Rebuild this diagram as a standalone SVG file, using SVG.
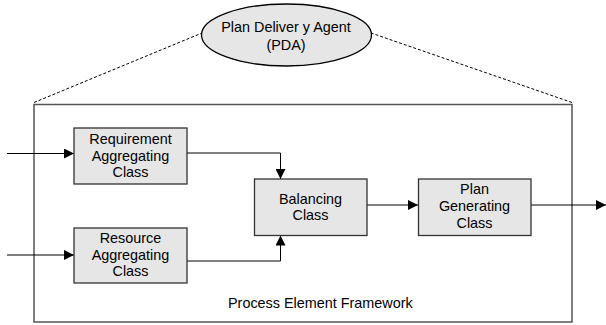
<svg xmlns="http://www.w3.org/2000/svg" width="606" height="325" viewBox="0 0 606 325">
<defs>
<style>
text{font-family:"Liberation Sans",Arial,sans-serif;font-size:14.4px;fill:#000;text-anchor:middle}
.box{fill:#e6e6e6;stroke:#333;stroke-width:1.3}
.edge{fill:none;stroke:#000;stroke-width:1}
.dash{fill:none;stroke:#000;stroke-width:1;stroke-dasharray:3,2}
</style>
<marker id="ah" viewBox="0 0 10 10" refX="10" refY="5" markerWidth="11" markerHeight="10" markerUnits="userSpaceOnUse" orient="auto">
<path d="M0,0 L10,5 L0,10 Z" fill="#000"/>
</marker>
</defs>
<rect width="606" height="325" fill="#fff"/>
<g id="frame">
<rect x="34" y="104.5" width="538" height="217.5" fill="none" stroke="#555" stroke-width="1.5"/>
<text x="228" y="308" style="text-anchor:start">Process Element Framework</text>
</g>
<g id="connectors">
<line class="dash" x1="34" y1="102.5" x2="202" y2="33"/>
<line class="dash" x1="572" y1="102.5" x2="371" y2="33"/>
<path class="edge" d="M7,153.5 H74" marker-end="url(#ah)"/>
<path class="edge" d="M7,255 H74" marker-end="url(#ah)"/>
<path class="edge" d="M187,153 H280.5 V179" marker-end="url(#ah)"/>
<path class="edge" d="M187,261 H280.5 V235.5" marker-end="url(#ah)"/>
<path class="edge" d="M367,205 H418" marker-end="url(#ah)"/>
<path class="edge" d="M531,205 H606" marker-end="url(#ah)"/>
</g>
<g id="pda">
<ellipse cx="286.5" cy="35" rx="85" ry="31" fill="#e6e6e6" stroke="#000" stroke-width="1.3"/>
<text x="286" y="32">Plan Deliver y Agent</text>
<text x="286" y="50">(PDA)</text>
</g>
<g id="requirement">
<rect class="box" x="74" y="128" width="113" height="56"/>
<text x="130.5" y="144">Requirement</text>
<text x="130.5" y="160.5">Aggregating</text>
<text x="130.5" y="177">Class</text>
</g>
<g id="resource">
<rect class="box" x="74" y="228" width="113" height="55"/>
<text x="130.5" y="243">Resource</text>
<text x="130.5" y="259.5">Aggregating</text>
<text x="130.5" y="276">Class</text>
</g>
<g id="balancing">
<rect class="box" x="254.5" y="179" width="112.5" height="56.5"/>
<text x="310.5" y="203.5">Balancing</text>
<text x="310.5" y="219.5">Class</text>
</g>
<g id="plan">
<rect class="box" x="418.5" y="179" width="112.5" height="56.5"/>
<text x="474.5" y="194">Plan</text>
<text x="474.5" y="211">Generating</text>
<text x="474.5" y="228">Class</text>
</g>
</svg>
